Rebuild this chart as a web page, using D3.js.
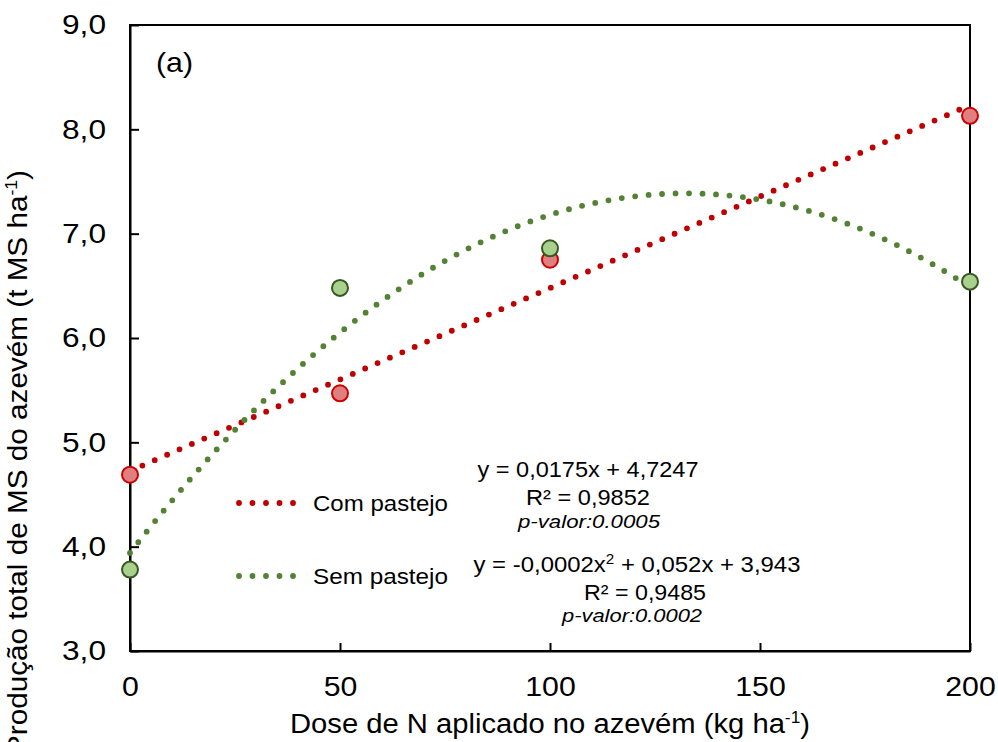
<!DOCTYPE html>
<html><head><meta charset="utf-8">
<script src="https://cdn.jsdelivr.net/npm/d3@7"></script>
<style>
html,body{margin:0;padding:0;background:#fff;}
svg{display:block;}
text{font-family:"Liberation Sans",Arial,sans-serif;fill:#000;}
</style></head>
<body>
<script>
// ---- data ----
const doses = [0, 50, 100, 200];
const comPastejo = [4.69, 5.47, 6.75, 8.13];
const semPastejo = [3.78, 6.48, 6.86, 6.54];
const xTicks = [0, 50, 100, 150, 200];
const yTicks = [3, 4, 5, 6, 7, 8, 9];
const seriesNames = ["Com pastejo", "Sem pastejo"];
const eqCom = ["y = 0,0175x + 4,7247", "R² = 0,9852", "p-valor:0.0005"];
const eqSem = ["y = -0,0002x", "2", " + 0,052x + 3,943", "R² = 0,9485", "p-valor:0.0002"];

const W = 998, H = 742;
const L = 130, R = 970, T = 25, B = 651;
const svg = d3.select("body").append("svg").attr("width", W).attr("height", H);

const x = d3.scaleLinear().domain([0, 200]).range([L, R]);
const y = d3.scaleLinear().domain([3, 9]).range([B, T]);

const red = "#c00000", green = "#548235";

// widen text horizontally to match reference glyph widths
function widen(sel, f) {
  sel.each(function () {
    const w = this.getComputedTextLength();
    d3.select(this).attr("textLength", w * f).attr("lengthAdjust", "spacingAndGlyphs");
  });
  return sel;
}
function fitW(sel, w) { return sel.attr("textLength", w).attr("lengthAdjust", "spacingAndGlyphs"); }

// frame
svg.append("rect").attr("x", L).attr("y", T).attr("width", R - L).attr("height", B - T)
  .attr("fill", "none").attr("stroke", "#000").attr("stroke-width", 2);

// axes (ticks inside)
const fmt = d => d3.format(".1f")(d).replace(".", ",");
const yAxis = svg.append("g").attr("transform", `translate(${L},0)`)
  .call(d3.axisLeft(y).tickValues(yTicks).tickFormat(fmt).tickSizeInner(-9).tickSizeOuter(0).tickPadding(24));
const xAxis = svg.append("g").attr("transform", `translate(0,${B})`)
  .call(d3.axisBottom(x).tickValues(xTicks).tickFormat(d3.format("d")).tickSizeInner(-8).tickSizeOuter(0).tickPadding(25));
[yAxis, xAxis].forEach(g => {
  g.select(".domain").attr("stroke", "#000").attr("stroke-width", 2);
  g.selectAll(".tick line").attr("stroke", "#000").attr("stroke-width", 2);
  g.selectAll(".tick text").attr("font-family", "Liberation Sans, Arial, sans-serif").attr("font-size", 28).attr("fill", "#000");
});
xAxis.selectAll(".tick text").attr("dy", "0.71em");
widen(yAxis.selectAll(".tick text"), 1.13);
widen(xAxis.selectAll(".tick text"), 1.08);

// regressions computed from data (least squares)
function linFit(xs, ys) {
  const n = xs.length, mx = d3.mean(xs), my = d3.mean(ys);
  let sxy = 0, sxx = 0;
  for (let i = 0; i < n; i++) { sxy += (xs[i] - mx) * (ys[i] - my); sxx += (xs[i] - mx) ** 2; }
  const b = sxy / sxx; return v => my + b * (v - mx);
}
function quadFit(xs, ys) {
  let S = [0,0,0,0,0], Sy = [0,0,0];
  xs.forEach((xv, i) => { for (let k = 0; k < 5; k++) S[k] += xv ** k; for (let k = 0; k < 3; k++) Sy[k] += ys[i] * xv ** k; });
  const M = [[S[0],S[1],S[2],Sy[0]],[S[1],S[2],S[3],Sy[1]],[S[2],S[3],S[4],Sy[2]]];
  for (let i = 0; i < 3; i++) {
    for (let j = i + 1; j < 3; j++) { const f = M[j][i] / M[i][i]; for (let k = i; k < 4; k++) M[j][k] -= f * M[i][k]; }
  }
  const c = [0,0,0];
  for (let i = 2; i >= 0; i--) { let s = M[i][3]; for (let k = i + 1; k < 3; k++) s -= M[i][k] * c[k]; c[i] = s / M[i][i]; }
  return v => c[0] + c[1] * v + c[2] * v * v;
}
const fCom = linFit(doses, comPastejo);
const fSem = quadFit(doses, semPastejo);
const xs = d3.range(0, 200.01, 1);
const line = f => d3.line().x(d => x(d)).y(d => y(f(d)))(xs);

const dotted = (sel, col) => sel.attr("fill", "none").attr("stroke", col).attr("stroke-width", 5.8)
  .attr("stroke-linecap", "round").attr("stroke-dasharray", "0 13.5");

dotted(svg.append("path").attr("d", line(fCom)), red);
dotted(svg.append("path").attr("d", line(fSem)), green);

// points
svg.append("g").selectAll("circle").data(doses).join("circle")
  .attr("cx", d => x(d)).attr("cy", (d, i) => y(comPastejo[i])).attr("r", 8)
  .attr("fill", "#e07f80").attr("stroke", "#cc0000").attr("stroke-width", 2);
svg.append("g").selectAll("circle").data(doses).join("circle")
  .attr("cx", d => x(d)).attr("cy", (d, i) => y(semPastejo[i])).attr("r", 8)
  .attr("fill", "#a9d18e").attr("stroke", "#385723").attr("stroke-width", 2);

// legend
[[red, 503, seriesNames[0]], [green, 576, seriesNames[1]]].forEach(([col, yy, name]) => {
  dotted(svg.append("line").attr("x1", 239).attr("x2", 294).attr("y1", yy).attr("y2", yy), col);
  fitW(svg.append("text").attr("x", 313).attr("y", yy + 8).attr("font-size", 22).text(name), 135);
});

// equations
fitW(svg.append("text").attr("x", 588).attr("y", 477).attr("text-anchor", "middle").attr("font-size", 22).text(eqCom[0]), 221);
fitW(svg.append("text").attr("x", 588).attr("y", 505).attr("text-anchor", "middle").attr("font-size", 22).text(eqCom[1]), 124);
fitW(svg.append("text").attr("x", 589).attr("y", 528).attr("text-anchor", "middle").attr("font-size", 18.5)
  .attr("font-style", "italic").text(eqCom[2]), 142);

const t2 = svg.append("text").attr("x", 637).attr("y", 572).attr("text-anchor", "middle").attr("font-size", 22);
t2.append("tspan").text(eqSem[0]);
t2.append("tspan").attr("dy", -8).attr("font-size", 14).text(eqSem[1]);
t2.append("tspan").attr("dy", 8).text(eqSem[2]);
fitW(t2, 327);
fitW(svg.append("text").attr("x", 645).attr("y", 600).attr("text-anchor", "middle").attr("font-size", 22).text(eqSem[3]), 122);
fitW(svg.append("text").attr("x", 632).attr("y", 622).attr("text-anchor", "middle").attr("font-size", 18.5)
  .attr("font-style", "italic").text(eqSem[4]), 140);

// panel label
fitW(svg.append("text").attr("x", 156).attr("y", 72).attr("font-size", 28).text("(a)"), 37);

// axis titles
const xt = svg.append("text").attr("x", (L + R) / 2).attr("y", 733).attr("text-anchor", "middle").attr("font-size", 27);
xt.append("tspan").text("Dose de N aplicado no azevém (kg ha");
xt.append("tspan").attr("dy", -10).attr("font-size", 16).text("-1");
xt.append("tspan").attr("dy", 10).text(")");
fitW(xt, 520);

const yt = svg.append("text").attr("transform", "translate(27,170) rotate(-90)").attr("text-anchor", "end").attr("font-size", 27);
yt.append("tspan").text("Produção total de MS do azevém (t MS ha");
yt.append("tspan").attr("dy", -10).attr("font-size", 16).text("-1");
yt.append("tspan").attr("dy", 10).text(")");
fitW(yt, 585);
</script>
</body></html>
